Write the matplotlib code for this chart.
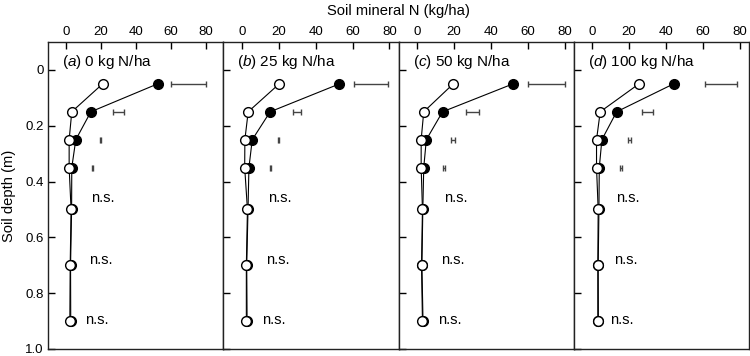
import numpy as np
import matplotlib
matplotlib.use("Agg")
import matplotlib.pyplot as plt

plt.rcParams["font.family"] = ["Liberation Sans", "DejaVu Sans"]
plt.rcParams["mathtext.fontset"] = "custom"
plt.rcParams["mathtext.rm"] = "Liberation Sans"
plt.rcParams["mathtext.it"] = "Liberation Sans:italic"

# depths (m)
depths = [0.05, 0.15, 0.25, 0.35, 0.5, 0.7, 0.9]
lsd_depths = [0.05, 0.15, 0.25, 0.35]

panel_letters = ["a", "b", "c", "d"]
rates = ["0", "25", "50", "100"]

# soil mineral N (kg/ha), open and filled symbols
open_n = [
    [21, 3.4, 1.9, 1.9, 3.0, 2.5, 2.3],
    [20.2, 3.4, 1.6, 1.5, 3.0, 2.4, 2.4],
    [19.6, 3.6, 2.2, 2.2, 2.9, 2.4, 2.9],
    [25.3, 4.3, 2.3, 2.3, 3.2, 3.0, 3.0],
]
filled_n = [
    [52.4, 14.3, 5.7, 3.4, 3.3, 2.7, 2.8],
    [52.9, 15.3, 5.6, 3.8, 3.3, 2.6, 2.8],
    [52.0, 13.8, 5.0, 3.6, 3.1, 2.6, 3.2],
    [44.1, 13.2, 5.2, 3.8, 3.6, 3.2, 3.3],
]

# LSD bars: centres and half widths
lsd_centre = [
    [70, 30, 20, 15],
    [70, 30, 19.8, 15.3],
    [70, 30, 19.4, 14.5],
    [70, 30, 20.2, 15.4],
]
lsd_half = [
    [10, 3, 0.3, 0.3],
    [9.3, 2.2, 0.3, 0.3],
    [10, 3.4, 1.0, 0.7],
    [8.7, 2.8, 0.7, 0.5],
]

# "n.s." labels (x in kg/ha, y in m)
ns_x = [
    [14.3, 13.0, 11.0],
    [14.0, 13.0, 11.0],
    [14.5, 13.2, 11.4],
    [12.9, 11.6, 9.8],
]
ns_y = [0.46, 0.68, 0.895]

x_limits = [(-10, 90), (-10, 85), (-10, 85), (-10, 85)]

fig, axes = plt.subplots(1, 4, figsize=(7.5, 3.56), dpi=100, sharey=True)
fig.subplots_adjust(left=0.0644, right=0.9987, top=0.882, bottom=0.0197, wspace=0)

for i, ax in enumerate(axes):
    ax.errorbar(lsd_centre[i], lsd_depths, xerr=lsd_half[i], fmt="none",
                ecolor="#444444", elinewidth=1.0, capsize=2.5, capthick=1.0)
    ax.plot(filled_n[i], depths, "-o", color="black", lw=0.8,
            markersize=7, markerfacecolor="black", markeredgecolor="black",
            markeredgewidth=1.0)
    ax.plot(open_n[i], depths, "-o", color="black", lw=0.8,
            markersize=7, markerfacecolor="white", markeredgecolor="black",
            markeredgewidth=1.0)
    for xs, ys in zip(ns_x[i], ns_y):
        ax.text(xs, ys, "n.s.", fontsize=10.5, va="center", ha="left")
    ax.text(0.08, 0.936, "($\\it{%s}$) %s kg N/ha" % (panel_letters[i], rates[i]),
            transform=ax.transAxes, fontsize=11, va="center", ha="left")

    ax.set_xlim(*x_limits[i])
    ax.set_ylim(1.0, -0.1)
    ax.set_xticks([0, 20, 40, 60, 80])
    ax.xaxis.tick_top()
    ax.tick_params(axis="x", direction="in", length=5, width=1,
                   labelsize=9.5, pad=3, top=True, bottom=False)
    ax.tick_params(axis="y", direction="in", length=5, width=1,
                   labelsize=9.5, left=True, right=False)
    for s in ax.spines.values():
        s.set_linewidth(1.0)
        s.set_color("#222222")

axes[0].set_yticks([0, 0.2, 0.4, 0.6, 0.8, 1.0])
axes[0].set_yticklabels(["0", "0.2", "0.4", "0.6", "0.8", "1.0"])

fig.text(398.5 / 750, 1 - 11 / 356, "Soil mineral N (kg/ha)", ha="center",
         va="center", fontsize=10.6)
fig.text(9 / 750, 1 - 195.5 / 356, "Soil depth (m)", rotation=90,
         ha="center", va="center", fontsize=10.6)

fig.savefig("out.png", dpi=100)
